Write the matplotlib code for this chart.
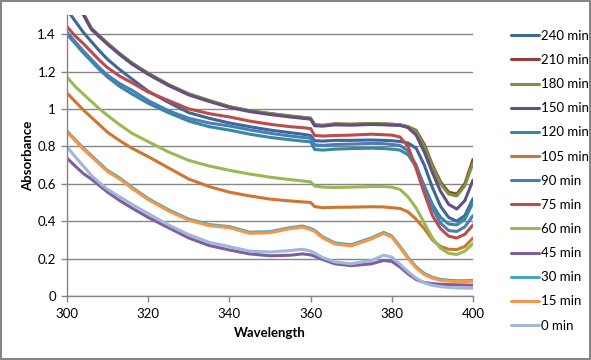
import matplotlib
matplotlib.use("Agg")
from matplotlib import pyplot as plt

# wavelength grid (nm)
wl = [300, 302, 304, 306, 308, 310, 313, 316, 320, 325, 330, 335, 340, 345, 350, 355, 358,
      360, 361, 363, 366, 370, 375, 378, 380, 382, 384, 386, 388, 390, 392, 394, 396, 398, 400]

labels = ['240 min', '210 min', '180 min', '150 min', '120 min', '105 min', '90 min',
          '75 min', '60 min', '45 min', '30 min', '15 min', '0 min']

a240 = [1.53, 1.47, 1.41, 1.36, 1.31, 1.265, 1.21, 1.16, 1.095, 1.035, 0.98, 0.95, 0.925, 0.905, 0.887, 0.873, 0.865,
        0.858, 0.83, 0.828, 0.832, 0.832, 0.834, 0.832, 0.83, 0.826, 0.818, 0.79, 0.7, 0.58, 0.48, 0.42, 0.40, 0.43, 0.52]
a210 = [1.75, 1.62, 1.51, 1.43, 1.39, 1.35, 1.295, 1.245, 1.19, 1.13, 1.08, 1.045, 1.012, 0.99, 0.975, 0.962, 0.955,
        0.95, 0.915, 0.912, 0.92, 0.918, 0.922, 0.92, 0.918, 0.915, 0.905, 0.885, 0.81, 0.70, 0.61, 0.555, 0.545, 0.60, 0.73]
a180 = [1.75, 1.62, 1.51, 1.43, 1.39, 1.35, 1.295, 1.245, 1.19, 1.13, 1.08, 1.045, 1.012, 0.99, 0.975, 0.962, 0.955,
        0.95, 0.915, 0.912, 0.92, 0.918, 0.922, 0.92, 0.918, 0.915, 0.905, 0.88, 0.80, 0.69, 0.60, 0.545, 0.535, 0.59, 0.71]
a150 = [1.75, 1.62, 1.505, 1.425, 1.385, 1.345, 1.29, 1.24, 1.185, 1.125, 1.075, 1.04, 1.008, 0.986, 0.97, 0.957, 0.95,
        0.945, 0.91, 0.908, 0.915, 0.913, 0.917, 0.915, 0.913, 0.912, 0.90, 0.86, 0.77, 0.66, 0.56, 0.49, 0.465, 0.51, 0.62]
a120 = [1.40, 1.35, 1.30, 1.255, 1.21, 1.17, 1.12, 1.08, 1.03, 0.98, 0.935, 0.905, 0.887, 0.865, 0.848, 0.835, 0.828,
        0.824, 0.783, 0.78, 0.785, 0.788, 0.79, 0.788, 0.785, 0.78, 0.755, 0.69, 0.59, 0.49, 0.42, 0.385, 0.38, 0.41, 0.50]
a105 = [1.085, 1.04, 0.995, 0.955, 0.915, 0.875, 0.83, 0.79, 0.745, 0.685, 0.625, 0.585, 0.555, 0.535, 0.518, 0.508, 0.503,
        0.50, 0.478, 0.472, 0.474, 0.475, 0.477, 0.476, 0.472, 0.468, 0.45, 0.41, 0.36, 0.30, 0.265, 0.25, 0.248, 0.265, 0.31]
a90 = [1.41, 1.36, 1.31, 1.265, 1.22, 1.18, 1.135, 1.10, 1.045, 0.99, 0.95, 0.925, 0.909, 0.888, 0.87, 0.855, 0.848,
       0.843, 0.808, 0.805, 0.81, 0.812, 0.816, 0.814, 0.81, 0.805, 0.775, 0.70, 0.58, 0.47, 0.39, 0.35, 0.345, 0.37, 0.43]
a75 = [1.44, 1.39, 1.35, 1.305, 1.26, 1.22, 1.175, 1.14, 1.09, 1.045, 1.0, 0.975, 0.957, 0.935, 0.918, 0.905, 0.90,
       0.895, 0.858, 0.855, 0.858, 0.86, 0.865, 0.862, 0.86, 0.85, 0.80, 0.68, 0.55, 0.43, 0.36, 0.32, 0.31, 0.33, 0.38]
a60 = [1.17, 1.12, 1.08, 1.04, 1.0, 0.965, 0.915, 0.87, 0.825, 0.77, 0.725, 0.695, 0.672, 0.652, 0.635, 0.622, 0.615,
       0.61, 0.588, 0.582, 0.58, 0.582, 0.585, 0.585, 0.582, 0.57, 0.53, 0.47, 0.39, 0.31, 0.255, 0.228, 0.222, 0.24, 0.28]
a45 = [0.737, 0.695, 0.655, 0.625, 0.59, 0.555, 0.51, 0.47, 0.42, 0.365, 0.31, 0.27, 0.246, 0.225, 0.215, 0.218, 0.225,
       0.22, 0.212, 0.195, 0.172, 0.162, 0.172, 0.19, 0.185, 0.155, 0.118, 0.088, 0.072, 0.066, 0.063, 0.061, 0.06, 0.059, 0.058]
a30 = [0.882, 0.836, 0.791, 0.751, 0.711, 0.671, 0.631, 0.581, 0.521, 0.461, 0.411, 0.382, 0.371, 0.341, 0.344, 0.366, 0.374,
       0.361, 0.351, 0.316, 0.284, 0.274, 0.311, 0.34, 0.321, 0.266, 0.206, 0.156, 0.121, 0.1, 0.089, 0.084, 0.082, 0.082, 0.084]
a15 = [0.877, 0.83, 0.785, 0.745, 0.705, 0.665, 0.625, 0.575, 0.515, 0.455, 0.405, 0.376, 0.365, 0.335, 0.338, 0.36, 0.368,
       0.355, 0.345, 0.31, 0.278, 0.268, 0.305, 0.334, 0.315, 0.26, 0.20, 0.15, 0.115, 0.095, 0.084, 0.079, 0.077, 0.077, 0.079]
a0 = [0.797, 0.745, 0.695, 0.645, 0.605, 0.57, 0.53, 0.49, 0.44, 0.38, 0.328, 0.287, 0.264, 0.24, 0.235, 0.243, 0.25,
      0.24, 0.23, 0.205, 0.182, 0.172, 0.19, 0.218, 0.208, 0.17, 0.13, 0.095, 0.07, 0.057, 0.05, 0.046, 0.043, 0.042, 0.042]

series = [a240, a210, a180, a150, a120, a105, a90, a75, a60, a45, a30, a15, a0]
colors = ['#3E6797', '#9A3B38', '#77963D', '#644E82', '#358AA0', '#CF7530', '#4A7EBB',
          '#BE4B48', '#98B954', '#7D5FA0', '#46AAC5', '#F79646', '#A2B6D8']

plt.rcParams['font.family'] = ['Lato', 'DejaVu Sans']
grey = '#868686'

fig = plt.figure(figsize=(5.91, 3.6), dpi=100, linewidth=1.5, edgecolor=grey)
ax = fig.add_axes([67/591, 1-296/360, 406/591, 280.6/360])

for ys, c, lab in zip(series, colors, labels):
    ax.plot(wl, ys, color=c, lw=2.2, label=lab, solid_capstyle='round')

ax.set_xlim(300, 400)
ax.set_ylim(0, 1.5)
ax.set_xticks(range(300, 401, 20))
ax.set_yticks([0, 0.2, 0.4, 0.6, 0.8, 1, 1.2, 1.4])
ax.set_yticklabels(['0', '0.2', '0.4', '0.6', '0.8', '1', '1.2', '1.4'])
ax.yaxis.grid(True, color=grey, lw=1)
ax.set_axisbelow(True)
for s in ['top', 'right']:
    ax.spines[s].set_visible(False)
for s in ['left', 'bottom']:
    ax.spines[s].set_color(grey)
    ax.spines[s].set_linewidth(1)
ax.tick_params(axis='both', colors=grey, labelcolor='black', labelsize=9.5, length=4, width=1)
ax.tick_params(axis='x', pad=5)
ax.tick_params(axis='y', pad=4)

ax.set_xlabel('Wavelength', fontsize=9.5, fontweight='bold', labelpad=5)
ax.set_ylabel('Absorbance', fontsize=9.5, fontweight='bold', labelpad=2)

fig.legend(loc='upper left', bbox_to_anchor=(499/591, 1-18/360), frameon=False,
           fontsize=9.5, handlelength=2.1, handletextpad=0.15, labelspacing=0.92)

fig.savefig('out.png', dpi=100)
